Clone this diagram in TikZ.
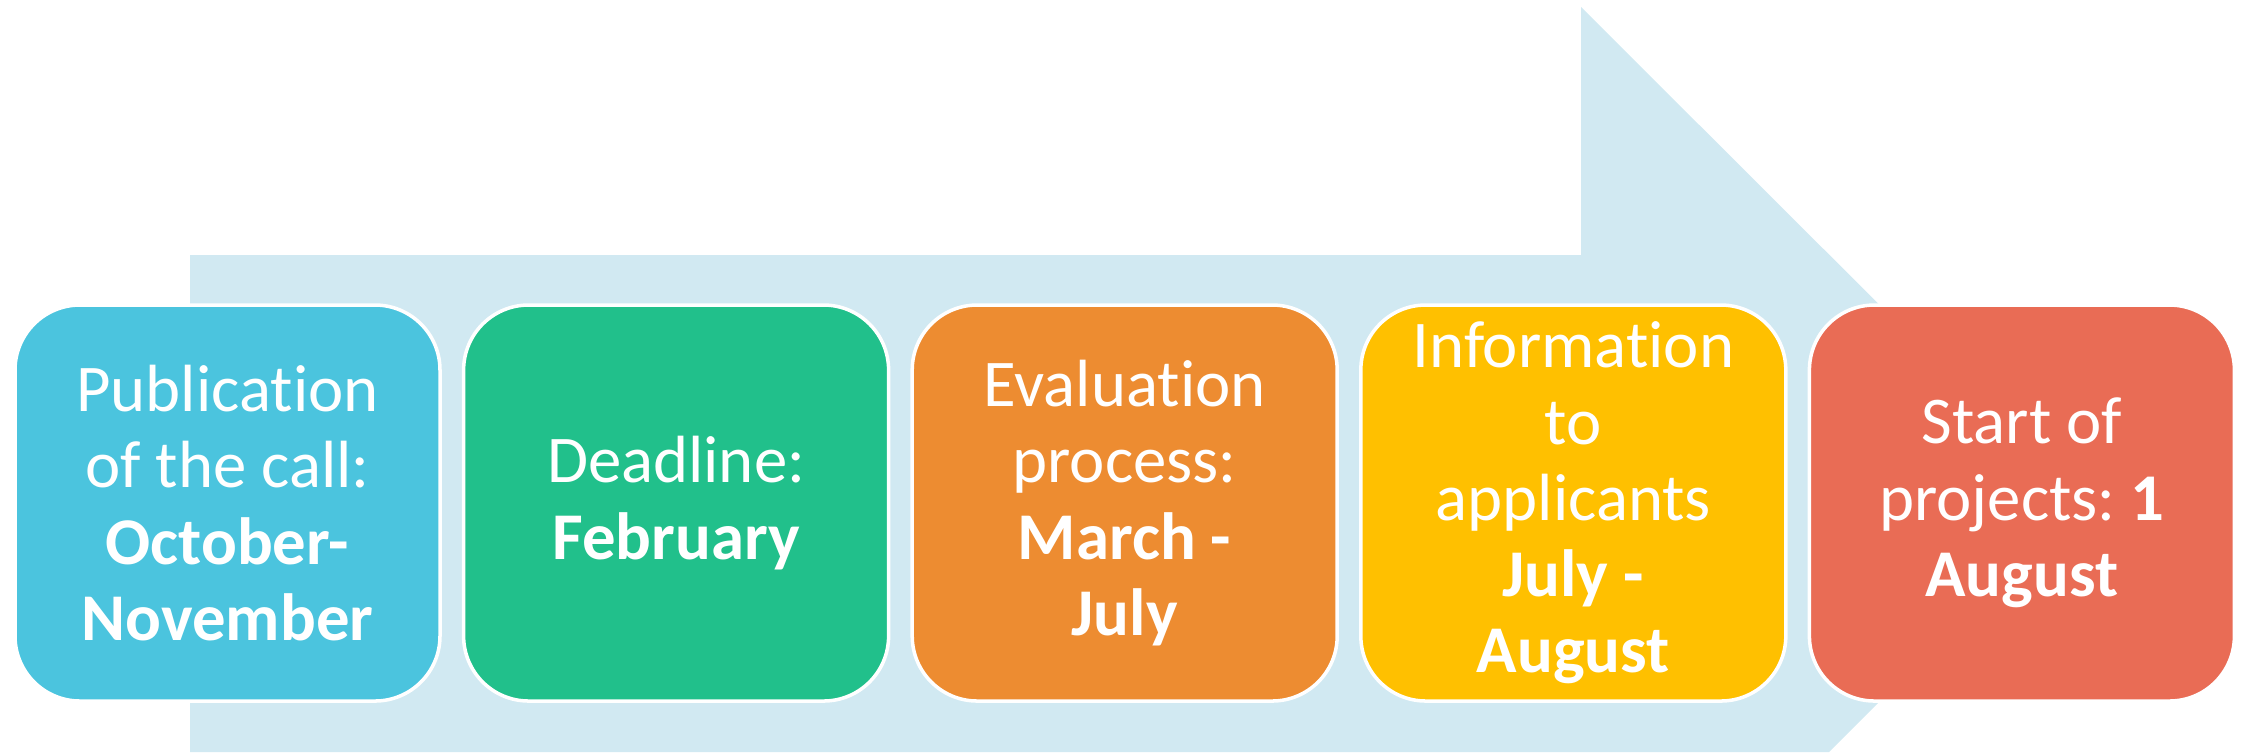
\documentclass[tikz,border=0pt]{standalone}
\usepackage{fontspec}
\setmainfont[RawFeature={-liga;-clig;-dlig;-calt}]{Carlito}
\usepackage{tikz}
\usetikzlibrary{shapes.geometric,arrows}
\frenchspacing
\definecolor{callblue}{HTML}{4BC4DE}
\definecolor{deadgreen}{HTML}{21C08B}
\definecolor{evalorange}{HTML}{ED8C31}
\definecolor{infoyellow}{HTML}{FFC000}
\definecolor{startred}{HTML}{E96C55}
\definecolor{bandblue}{HTML}{D1E9F2}
\tikzstyle{stage} = [rectangle, draw=white, line width=1pt, rounded corners=6.5mm,
  minimum width=4.25cm, minimum height=3.96cm, text=white, align=center,
  font=\fontsize{19}{21.7}\selectfont]
\tikzstyle{band} = [fill=bandblue]
\begin{document}
\begin{tikzpicture}[node distance=4.486cm]
    \useasboundingbox (0,0) rectangle (22.44,-7.52);
    % background arrow
    \path[band] (1.90,-2.55) -- (15.81,-2.55) -- (15.81,-0.07) -- (20.78,-5.03)
      -- (18.29,-7.52) -- (1.90,-7.52) -- cycle;

    \node[stage, fill=callblue] (call) at (2.275,-5.03) {Publication\\of the call:\\\textbf{October-}\\\textbf{November}};
    \node[stage, fill=deadgreen, right of=call] (deadline) {Deadline:\\\textbf{February}};
    \node[stage, fill=evalorange, right of=deadline] (evaluation) {Evaluation\\process:\\\textbf{March -}\\\textbf{July}};
    \node[stage, fill=infoyellow, right of=evaluation] (info) {Information\\to\\applicants\\\textbf{July -}\\\textbf{August}};
    \node[stage, fill=startred, right of=info] (start) {Start of\\projects: \textbf{1}\\\textbf{August}};
  \end{tikzpicture}
\end{document}
